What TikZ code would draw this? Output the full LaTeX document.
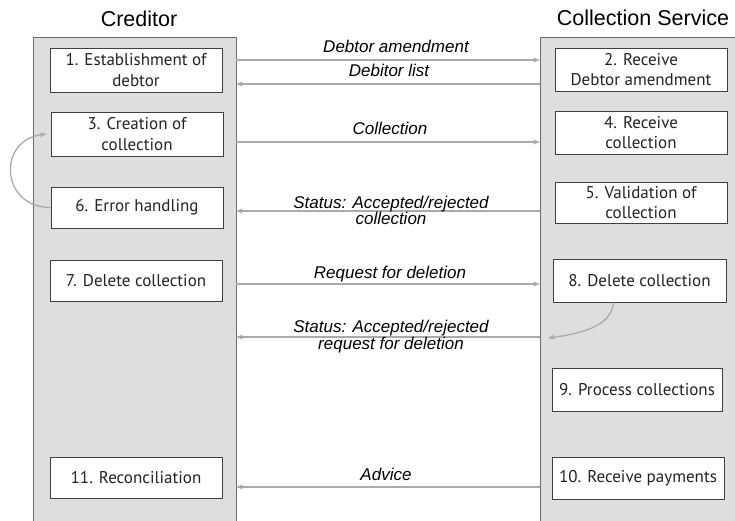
\documentclass[tikz,border=0pt]{standalone}
\usepackage{fontspec}
\setmainfont{Liberation Sans}
\newfontfamily\boxfont{PT Sans}
\usetikzlibrary{arrows.meta}
\definecolor{lanefill}{RGB}{222,222,222}
\definecolor{laneline}{RGB}{110,110,110}
\definecolor{boxline}{RGB}{64,64,64}
\definecolor{arrowc}{RGB}{170,170,170}
\definecolor{txt}{RGB}{35,35,35}
\begin{document}
\begin{tikzpicture}[x=1pt,y=-1pt,
  lane/.style={draw=laneline,fill=lanefill,line width=1.2pt,inner sep=0pt},
  stepbox/.style={draw=boxline,fill=white,line width=0.9pt,minimum width=172pt,minimum height=43pt,inner sep=0pt,align=center,font=\boxfont\fontsize{17}{20.5}\selectfont,text=txt},
  head/.style={font=\fontsize{21.5}{24}\selectfont,inner sep=0pt},
  msg/.style={draw=arrowc,line width=1.3pt,-{Stealth[length=7pt,width=5pt]}},
  lbl/.style={font=\itshape\fontsize{17}{17}\selectfont,align=center,inner sep=0pt,text=black}]
\useasboundingbox (0,0) rectangle (735,521);
\clip (0,0) rectangle (735,521);
% lanes
\node[lane,anchor=north west,minimum width=203pt,minimum height=500pt] (cl) at (33,37) {};
\node[lane,anchor=north west,minimum width=205pt,minimum height=500pt] (sl) at (540,37) {};
% headings
\node[head,anchor=base] (hc) at (139,27) {Creditor};
\node[head,anchor=base] (hs) at (643,26) {Collection Service};
% creditor steps
\node[stepbox,minimum height=44pt] (b1) at (136,70) {1. Establishment of\\debtor};
\node[stepbox,minimum height=44pt] (b3) at (137,134) {3. Creation of\\collection};
\node[stepbox,minimum height=41pt] (b6) at (137,207.5) {6. Error handling};
\node[stepbox,minimum height=41pt] (b7) at (136,280.5) {7. Delete collection};
\node[stepbox,minimum height=41pt] (b11) at (136,477.5) {11. Reconciliation};
% service steps
\node[stepbox] (b2) at (641,69.5) {2. Receive\\Debtor amendment};
\node[stepbox] (b4) at (641,132.5) {4. Receive\\collection};
\node[stepbox,minimum height=41pt] (b5) at (641,202.5) {5. Validation of\\collection};
\node[stepbox,minimum width=173pt] (b8) at (639.5,280.5) {8. Delete collection};
\node[stepbox,minimum width=170pt] (b9) at (637,389.5) {9. Process collections};
\node[stepbox,minimum height=42pt] (b10) at (638,478) {10. Receive payments};
% message end points
\coordinate (m1l) at (236,60);  \coordinate (m1r) at (540,60);
\coordinate (m2l) at (236,84);  \coordinate (m2r) at (540,84);
\coordinate (m3l) at (236,142); \coordinate (m3r) at (540,142);
\coordinate (m4l) at (236,211); \coordinate (m4r) at (540,211);
\coordinate (m5l) at (236,284); \coordinate (m5r) at (540,284);
\coordinate (m6l) at (236,337); \coordinate (m6r) at (540,337);
\coordinate (m7l) at (236,487); \coordinate (m7r) at (540,487);
\coordinate (c8) at (548,338);
% messages
\draw[msg] (m1l) -- (m1r);
\draw[msg] (m2r) -- (m2l);
\draw[msg] (m3l) -- (m3r);
\draw[msg] (m4r) -- (m4l);
\draw[msg] (m5l) -- (m5r);
\draw[msg] (m6r) -- (m6l);
\draw[msg] (m7r) -- (m7l);
% loops
\draw[msg] (b6.west) .. controls +(-50,0) and +(-50,6) .. ([xshift=-4pt]b3.west);
\draw[msg] ([xshift=-26pt]b8.south) .. controls +(-2,25) and +(30,-4) .. (c8);
% labels
\node[lbl,anchor=base] (l1) at (396,53) {Debtor amendment};
\node[lbl,anchor=base] (l2) at (389,77) {Debitor list};
\node[lbl,anchor=base] (l3) at (390,135) {Collection};
\node[lbl,anchor=base] (l4) at (391,225) {Status: Accepted/rejected\\collection};
\node[lbl,anchor=base] (l5) at (390,278) {Request for deletion};
\node[lbl,anchor=base] (l6) at (391,349) {Status: Accepted/rejected\\request for deletion};
\node[lbl,anchor=base] (l7) at (386,480) {Advice};
\end{tikzpicture}
\end{document}
